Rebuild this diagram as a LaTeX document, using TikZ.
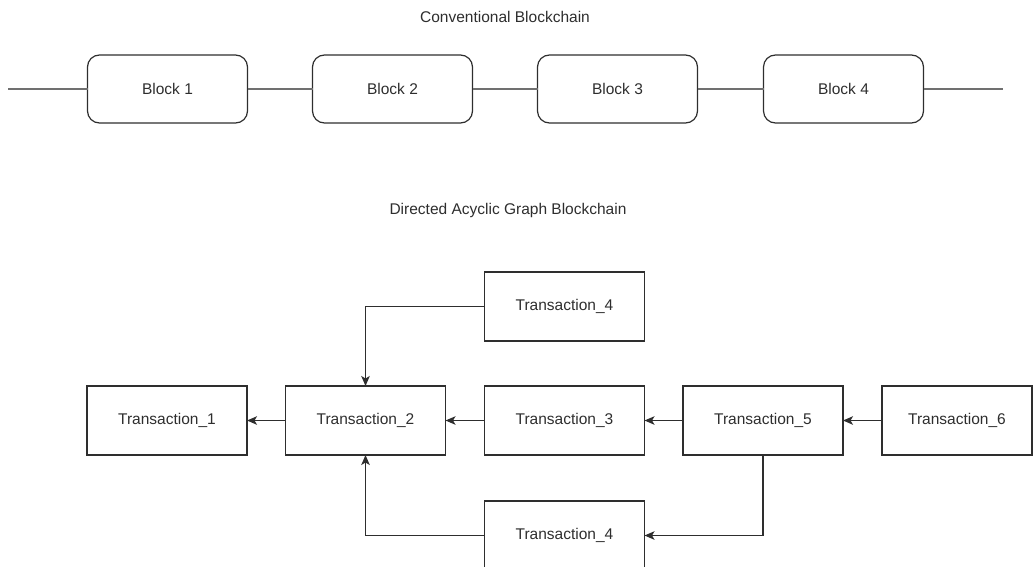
\documentclass[tikz,border=0pt]{standalone}
\usepackage{fontspec}
\setmainfont{Liberation Sans}
\usetikzlibrary{arrows.meta}
\definecolor{ink}{HTML}{2E2E2E}
\definecolor{linkgray}{HTML}{707070}

\begin{document}
\begin{tikzpicture}[x=1pt, y=-1pt,
    txt/.style={font=\fontsize{15.5}{18}\selectfont, text=ink},
    block/.style={txt, draw=ink, line width=1.2pt, rounded corners=12pt,
        minimum width=160pt, minimum height=68pt, inner sep=0pt, outer sep=0pt},
    tx/.style={txt, draw=ink, line width=1.2pt,
        minimum width=160pt, minimum height=69pt, inner sep=0pt, outer sep=0pt},
    link/.style={linkgray, line width=1.5pt},
    ref/.style={ink, line width=1.2pt, -{Stealth[length=10pt, width=8.5pt, inset=2.5pt]}}]

    \useasboundingbox (0,0) rectangle (1033,567);

    % --- 1. conventional chain: blocks in a row ---
    \node[txt] (title_c) at (505,17) {Conventional Blockchain};
    \node[block] (B_1) at (167.5,89) {Block 1};
    \node[block] (B_2) at (392.5,89) {Block 2};
    \node[block] (B_3) at (617.5,89) {Block 3};
    \node[block] (B_4) at (843.5,89) {Block 4};
    \coordinate (l_in) at (8,89);
    \coordinate (l_out) at (1003,89);

    % --- 2. links between the blocks ---
    \draw[link] (l_in) -- (B_1.west);
    \draw[link] (B_1) -- (B_2);
    \draw[link] (B_2) -- (B_3);
    \draw[link] (B_3) -- (B_4);
    \draw[link] (B_4.east) -- (l_out);

    % --- 3. DAG: transactions ---
    \node[txt] (title_d) at (508,210) {Directed Acyclic Graph Blockchain};
    \node[tx] (T_1) at (167,420.5) {Transaction\_1};
    \node[tx] (T_2) at (365.5,420.5) {Transaction\_2};
    \node[tx] (T_3) at (564.5,420.5) {Transaction\_3};
    \node[tx] (T_4) at (564.5,306.5) {Transaction\_4};
    \node[tx] (T_5) at (763,420.5) {Transaction\_5};
    \node[tx, minimum width=150pt] (T_6) at (957,420.5) {Transaction\_6};
    \node[tx] (T_4b) at (564.5,535.5) {Transaction\_4};

    % --- 4. references (each one points back) ---
    \draw[ref] (T_2) -- (T_1);
    \draw[ref] (T_3) -- (T_2);
    \draw[ref] (T_5) -- (T_3);
    \draw[ref] (T_6) -- (T_5);
    \draw[ref] (T_4.west) -| (T_2.north);
    \draw[ref] (T_5.south) |- (T_4b.east);
    \draw[ref] (T_4b.west) -| (T_2.south);

\end{tikzpicture}
\end{document}
